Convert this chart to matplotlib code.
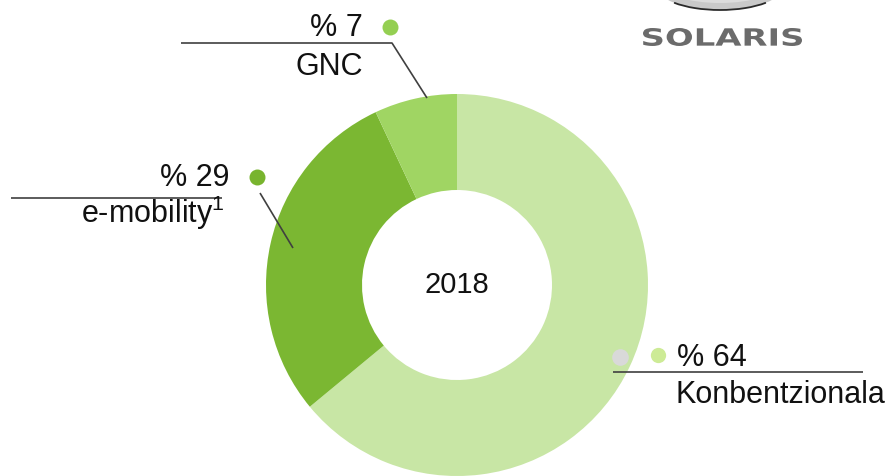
import matplotlib.pyplot as plt
from matplotlib.textpath import TextPath
from matplotlib.font_manager import FontProperties
from matplotlib.patches import PathPatch, Ellipse, Arc
import matplotlib.transforms as mtransforms

# Datuak: autobus salmentak motorizazio motaren arabera (2018)
labels = ["Konbentzionala", "e-mobility$^{1}$", "GNC"]
values = [64, 29, 7]
colors = ["#c8e6a5", "#7bb732", "#a0d563"]
dot_colors = ["#cdeb96", "#78b42e", "#94cf52"]
year = "2018"

W, H = 891, 476
plt.rcParams['font.family'] = ['Liberation Sans', 'DejaVu Sans']
plt.rcParams['mathtext.fontset'] = 'custom'
plt.rcParams['mathtext.rm'] = 'Liberation Sans'
plt.rcParams['mathtext.default'] = 'rm'

fig = plt.figure(figsize=(W / 100, H / 100), dpi=100)
ax = fig.add_axes([0, 0, 1, 1])


def Y(y):
    # pixel y (goitik behera) -> datu koordenatuak
    return H - y


cx, cy, r = 457, 285, 191
ax.pie(values, colors=colors, startangle=90, counterclock=False,
       center=(cx, Y(cy)), radius=r, wedgeprops=dict(width=96, linewidth=0))
ax.set_xlim(0, W)
ax.set_ylim(0, H)
ax.set_aspect('equal')
ax.axis('off')

ax.text(cx, Y(293), year, ha='center', va='baseline', fontsize=21, color='#111111')

line_kw = dict(color='#404040', lw=1.2, solid_capstyle='butt')
txt_kw = dict(fontsize=22, color='#111111', va='baseline')

# GNC
ax.plot([181, 392, 427], [Y(43), Y(43), Y(98)], **line_kw)
ax.plot(390, Y(27), 'o', ms=11.5, color=dot_colors[2], mew=0)
ax.text(363, Y(36), f"% {values[2]}", ha='right', **txt_kw)
ax.text(363, Y(75), labels[2], ha='right', **txt_kw)

# e-mobility
ax.plot([11, 222], [Y(198), Y(198)], **line_kw)
ax.plot([260, 293], [Y(193), Y(248)], **line_kw)
ax.plot(257, Y(177), 'o', ms=11.5, color=dot_colors[1], mew=0)
ax.text(230, Y(186), f"% {values[1]}", ha='right', **txt_kw)
ax.text(225, Y(223), labels[1], ha='right', **txt_kw)

# Konbentzionala
ax.plot([613, 863], [Y(372), Y(372)], **line_kw)
ax.plot(620, Y(357), 'o', ms=12, color='#d9d9d9', mew=0)
ax.plot(658, Y(355), 'o', ms=11, color=dot_colors[0], mew=0)
ax.text(677, Y(366), f"% {values[0]}", ha='left', **txt_kw)
ax.text(676, Y(403), labels[0], ha='left', **txt_kw)

# SOLARIS logoa (goiko eskuinean)
ax.add_patch(Ellipse((720, Y(-14)), 128, 48, facecolor='#c9c9c9', edgecolor='none'))
ax.add_patch(Ellipse((720, Y(-17)), 118, 40, facecolor='#dcdcdc', edgecolor='none'))
ax.add_patch(Arc((720, Y(-14)), 128, 48, theta1=200, theta2=340, color='#2a2a2a', lw=1.3))
tp = TextPath((0, 0), "SOLARIS", size=20, prop=FontProperties(family='DejaVu Sans', weight='bold'))
bb = tp.get_extents()
sx = (802 - 643) / bb.width
sy = (46 - 28) / bb.height
tr = mtransforms.Affine2D().translate(-bb.x0, -bb.y0).scale(sx, sy).translate(643, Y(46))
ax.add_patch(PathPatch(tr.transform_path(tp), facecolor='#6b6b6b', edgecolor='none'))

fig.savefig("out.png", dpi=100)
